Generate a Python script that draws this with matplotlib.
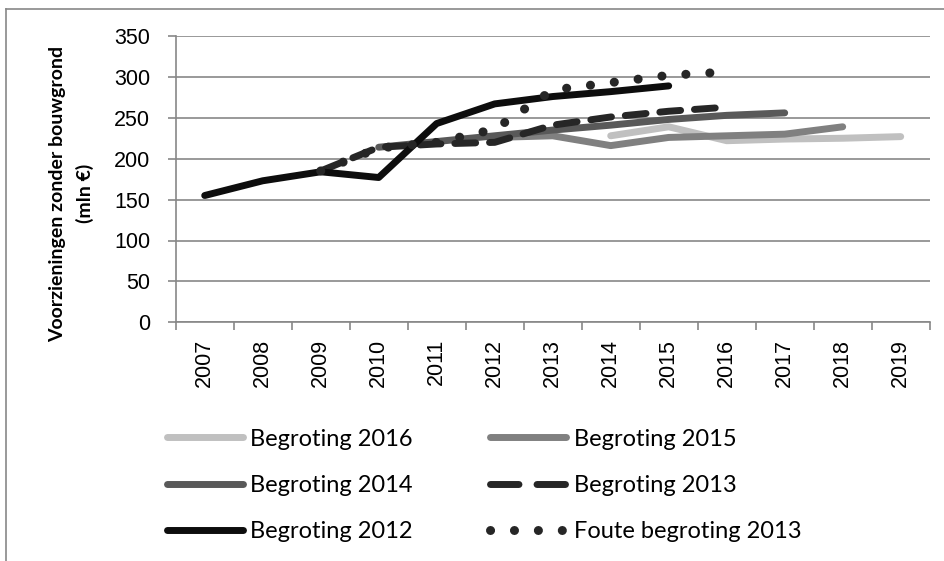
import numpy as np
import matplotlib.pyplot as plt
from matplotlib.lines import Line2D

years = ["2007", "2008", "2009", "2010", "2011", "2012", "2013",
         "2014", "2015", "2016", "2017", "2018", "2019"]

# begrotingen (mln euro), elk vanaf een eigen startjaar
b2016_years = ["2014", "2015", "2016", "2017", "2018", "2019"]
b2016 = [228, 239, 222, 224, 225, 227]

b2015_years = ["2012", "2013", "2014", "2015", "2016", "2017", "2018"]
b2015 = [226, 228, 216, 226, 228, 230, 239]

b2014_years = ["2010", "2011", "2012", "2013", "2014", "2015", "2016", "2017"]
b2014 = [214, 221, 228, 235, 241, 248, 253, 256]

b2013_years = ["2009", "2010", "2011", "2012", "2013", "2014", "2015", "2016"]
b2013 = [185, 214, 218, 220, 241, 251, 258, 263]

b2012_years = ["2007", "2008", "2009", "2010", "2011", "2012", "2013", "2014", "2015"]
b2012 = [155, 173, 184, 177, 243, 267, 276, 282, 289]

foute_years = ["2009", "2010", "2011", "2012", "2013", "2014", "2015", "2016"]
foute2013 = [185, 213, 220, 236, 284, 293, 302, 306]

labels = ["Begroting 2016", "Begroting 2015", "Begroting 2014",
          "Begroting 2013", "Begroting 2012", "Foute begroting 2013"]

LW = 5.0
grid_col = "#878787"
calibri_like = ["Lato", "DejaVu Sans"]

fig = plt.figure(figsize=(9.45, 5.61), dpi=100)
ax = fig.add_axes([175.7 / 945, 1 - 322.3 / 561, 754 / 945, 286.3 / 561])


def xpos(yrs):
    return [years.index(y) for y in yrs]


ax.plot(xpos(b2016_years), b2016, color="#c0c0c0", lw=LW, solid_capstyle="round", solid_joinstyle="round")
ax.plot(xpos(b2015_years), b2015, color="#808080", lw=LW, solid_capstyle="round", solid_joinstyle="round")
ax.plot(xpos(b2014_years), b2014, color="#595959", lw=LW, solid_capstyle="round", solid_joinstyle="round")
ax.plot(xpos(b2013_years), b2013, color="#262626", lw=LW, dashes=(3, 2),
        dash_capstyle="round", dash_joinstyle="round")
ax.plot(xpos(b2012_years), b2012, color="#0d0d0d", lw=LW, solid_capstyle="round", solid_joinstyle="round")
ax.plot(xpos(foute_years), foute2013, color="#262626", lw=LW * 1.3, dashes=(0.01, 2.65),
        dash_capstyle="round")

ax.set_xlim(-0.5, len(years) - 0.5)
ax.set_ylim(0, 350)
ax.set_yticks(np.arange(0, 351, 50))
ax.set_xticks(range(len(years)))
ax.set_xticklabels(years, rotation=90)
ax.set_xticks(np.arange(-0.5, len(years), 1), minor=True)

ax.yaxis.grid(True, color=grid_col, lw=1.2)
ax.set_axisbelow(True)
for s in ["top", "right"]:
    ax.spines[s].set_visible(False)
for s in ["left", "bottom"]:
    ax.spines[s].set_color(grid_col)
    ax.spines[s].set_linewidth(1.2)

ax.tick_params(axis="y", length=6, width=1.2, color=grid_col, pad=12.5,
               labelsize=15.5, labelfontfamily="Liberation Sans")
ax.tick_params(axis="x", which="major", length=0, pad=12,
               labelsize=15.5, labelfontfamily="Liberation Sans")
ax.tick_params(axis="x", which="minor", length=6, width=1.2, color=grid_col)

fig.text(0.0757, 0.655, "Voorzieningen zonder bouwgrond\n(mln €)", rotation=90,
         ha="center", va="center", fontsize=14, fontweight="bold",
         family=calibri_like, linespacing=1.6)

# legenda met eigen handles (kortere streepjes/punten zoals in het origineel)
h = [
    Line2D([], [], color="#c0c0c0", lw=LW, solid_capstyle="round"),
    Line2D([], [], color="#808080", lw=LW, solid_capstyle="round"),
    Line2D([], [], color="#595959", lw=LW, solid_capstyle="round"),
    Line2D([], [], color="#262626", lw=LW, dashes=(4.1, 2.6), dash_capstyle="round"),
    Line2D([], [], color="#0d0d0d", lw=LW, solid_capstyle="round"),
    Line2D([], [], color="#262626", lw=LW * 1.3, dashes=(0.01, 2.64), dash_capstyle="round"),
]
# rij voor rij vullen: kolom 1 = 2016, 2014, 2012; kolom 2 = 2015, 2013, foute
order = [0, 2, 4, 1, 3, 5]
fig.legend([h[i] for i in order], [labels[i] for i in order], ncol=2, loc="upper left",
           bbox_to_anchor=(166.5 / 945, 1 - 428.5 / 561), frameon=False,
           borderpad=0, borderaxespad=0, handlelength=3.22, handletextpad=0.32,
           columnspacing=3.28, labelspacing=1.08,
           prop={"family": calibri_like, "size": 17})

# rand van het grafiekgebied (alleen links en boven zichtbaar)
fig.add_artist(Line2D([6 / 945, 6 / 945], [0, 1 - 9 / 561], color=grid_col, lw=1.2))
fig.add_artist(Line2D([6 / 945, 1], [1 - 9 / 561, 1 - 9 / 561], color=grid_col, lw=1.2))

fig.savefig("out.png", dpi=100)
